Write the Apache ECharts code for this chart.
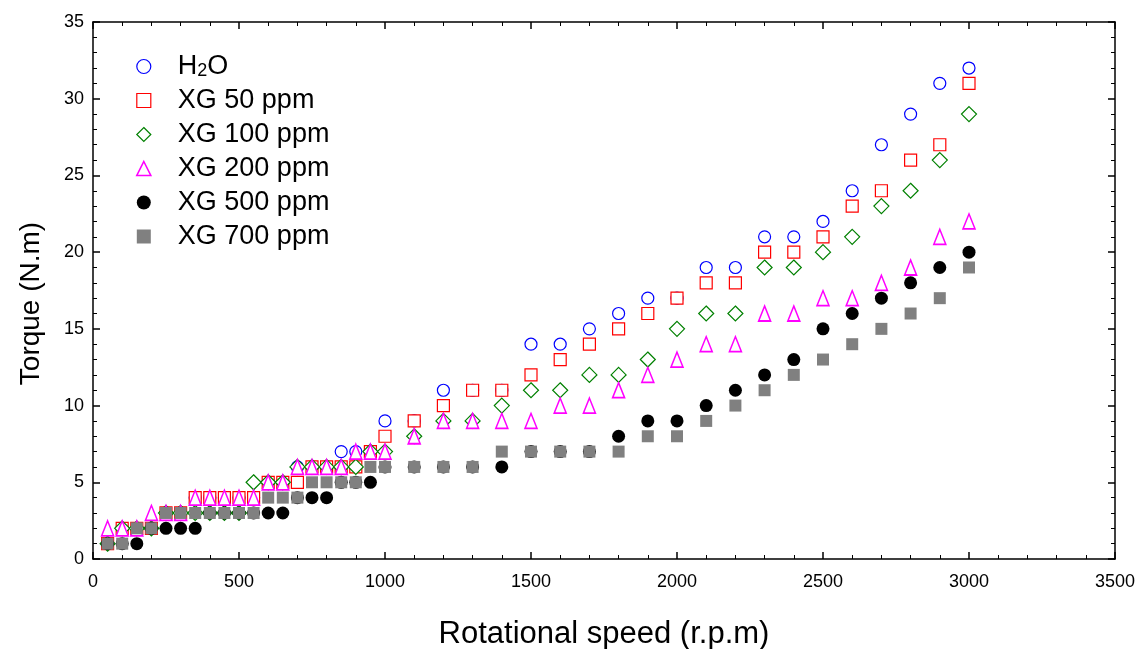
<!DOCTYPE html>
<html>
<head>
<meta charset="utf-8">
<script src="https://cdn.jsdelivr.net/npm/echarts@6/dist/echarts.min.js"></script>
<style>
html,body{margin:0;padding:0;background:#fff;}
#chart{width:1139px;height:649px;}
</style>
</head>
<body>
<div id="chart"></div>
<script>
const speed = [50,100,150,200,250,300,350,400,450,500,550,600,650,700,750,800,850,900,950,1000,1100,1200,1300,1400,1500,1600,1700,1800,1900,2000,2100,2200,2300,2400,2500,2600,2700,2800,2900,3000];
const h2o   = [1,2,2,2,3,3,4,4,4,4,4,5,5,6,6,6,7,7,7,9,9,11,11,11,14,14,15,16,17,17,19,19,21,21,22,24,27,29,31,32];
const xg50  = [1,2,2,2,3,3,4,4,4,4,4,5,5,5,6,6,6,6,7,8,9,10,11,11,12,13,14,15,16,17,18,18,20,20,21,23,24,26,27,31];
const xg100 = [1,2,2,2,3,3,3,3,3,3,5,5,5,6,6,6,6,6,7,7,8,9,9,10,11,11,12,12,13,15,16,16,19,19,20,21,23,24,26,29];
const xg200 = [2,2,2,3,3,3,4,4,4,4,4,5,5,6,6,6,6,7,7,7,8,9,9,9,9,10,10,11,12,13,14,14,16,16,17,17,18,19,21,22];
const xg500 = [1,1,1,2,2,2,2,3,3,3,3,3,3,4,4,4,5,5,5,6,6,6,6,6,7,7,7,8,9,9,10,11,12,13,15,16,17,18,19,20];
const xg700 = [1,1,2,2,3,3,3,3,3,3,3,4,4,4,5,5,5,5,6,6,6,6,6,7,7,7,7,7,8,8,9,10,11,12,13,14,15,16,17,19];

const xTicks = [0,500,1000,1500,2000,2500,3000,3500];
const yTicks = [0,5,10,15,20,25,30,35];
const seriesNames = ['H2O','XG 50 ppm','XG 100 ppm','XG 200 ppm','XG 500 ppm','XG 700 ppm'];

const FONT = '"Liberation Sans", Arial, sans-serif';
const chart = echarts.init(document.getElementById('chart'), null, {renderer:'canvas'});

function pairs(ys){ return speed.map((x,i)=>[x, ys[i]]); }

function axisCommon(){
  return {
    axisLine:{show:true, onZero:false, lineStyle:{color:'#000', width:1.5}},
    axisTick:{show:true, inside:true, length:7, lineStyle:{color:'#000', width:1.5}},
    minorTick:{show:true, splitNumber:5, length:4, lineStyle:{color:'#000', width:1}},
    splitLine:{show:false}
  };
}

const styles = [
  {symbol:'circle', size:12, color:'#fff', border:'#0000ff', bw:1.2},
  {symbol:'rect', size:12, color:'#fff', border:'#ff0000', bw:1.2},
  {symbol:'diamond', size:[15,15], color:'#fff', border:'#008000', bw:1.2},
  {symbol:'triangle', size:[12,15], color:'#fff', border:'#ff00ff', bw:1.6},
  {symbol:'circle', size:13, color:'#000', border:'#000', bw:0},
  {symbol:'rect', size:12, color:'#808080', border:'#808080', bw:0}
];
const data = [h2o, xg50, xg100, xg200, xg500, xg700];

const option = {
  backgroundColor:'#fff',
  animation:false,
  grid:{left:93, right:24, top:22, bottom:90, containLabel:false, outerBoundsMode:'none'},
  legend:{
    orient:'vertical', left:131, top:48, itemGap:7,
    itemWidth:14, itemHeight:14,
    textStyle:{fontFamily:FONT, fontSize:27, color:'#000', padding:[0,0,0,22],
      rich:{
        n:{fontFamily:FONT, fontSize:27, color:'#000', lineHeight:27, verticalAlign:'bottom'},
        sub:{fontFamily:FONT, fontSize:18, color:'#000', lineHeight:16, verticalAlign:'bottom'}
      }},
    formatter:function(name){
      if(name==='H2O') return '{n|H}{sub|2}{n|O}';
      return name;
    },
    data: seriesNames.map((n,i)=>({name:n, icon: styles[i].symbol,
      itemStyle:{color:styles[i].color, borderColor:styles[i].border, borderWidth: styles[i].bw}}))
  },
  xAxis:[
    Object.assign({type:'value', min:0, max:3500, interval:500, position:'bottom',
      name:'Rotational speed (r.p.m)', nameLocation:'middle', nameGap:60,
      nameTextStyle:{fontFamily:FONT, fontSize:31, color:'#000'},
      axisLabel:{fontFamily:FONT, fontSize:18, color:'#000', margin:14,
        formatter:function(v){ return xTicks.indexOf(v) >= 0 ? String(v) : ''; }}}, axisCommon()),
    Object.assign({type:'value', min:0, max:3500, interval:500, position:'top',
      axisLabel:{show:false}}, axisCommon())
  ],
  yAxis:[
    Object.assign({type:'value', min:0, max:35, interval:5, position:'left',
      name:'Torque (N.m)', nameLocation:'middle', nameGap:48,
      nameTextStyle:{fontFamily:FONT, fontSize:28, color:'#000', padding:[0,26,0,0]},
      axisLabel:{fontFamily:FONT, fontSize:18, color:'#000', margin:9,
        formatter:function(v){ return yTicks.indexOf(v) >= 0 ? String(v) : ''; }}}, axisCommon()),
    Object.assign({type:'value', min:0, max:35, interval:5, position:'right',
      axisLabel:{show:false}}, axisCommon())
  ],
  series: seriesNames.map((n,i)=>({
    name:n, type:'scatter', xAxisIndex:0, yAxisIndex:0,
    symbol:styles[i].symbol, symbolSize:styles[i].size,
    itemStyle:{color:styles[i].color, borderColor:styles[i].border, borderWidth:styles[i].bw, opacity:1},
    emphasis:{disabled:true},
    z: 2+i,
    data: pairs(data[i])
  }))
};
chart.setOption(option);
</script>
</body>
</html>
